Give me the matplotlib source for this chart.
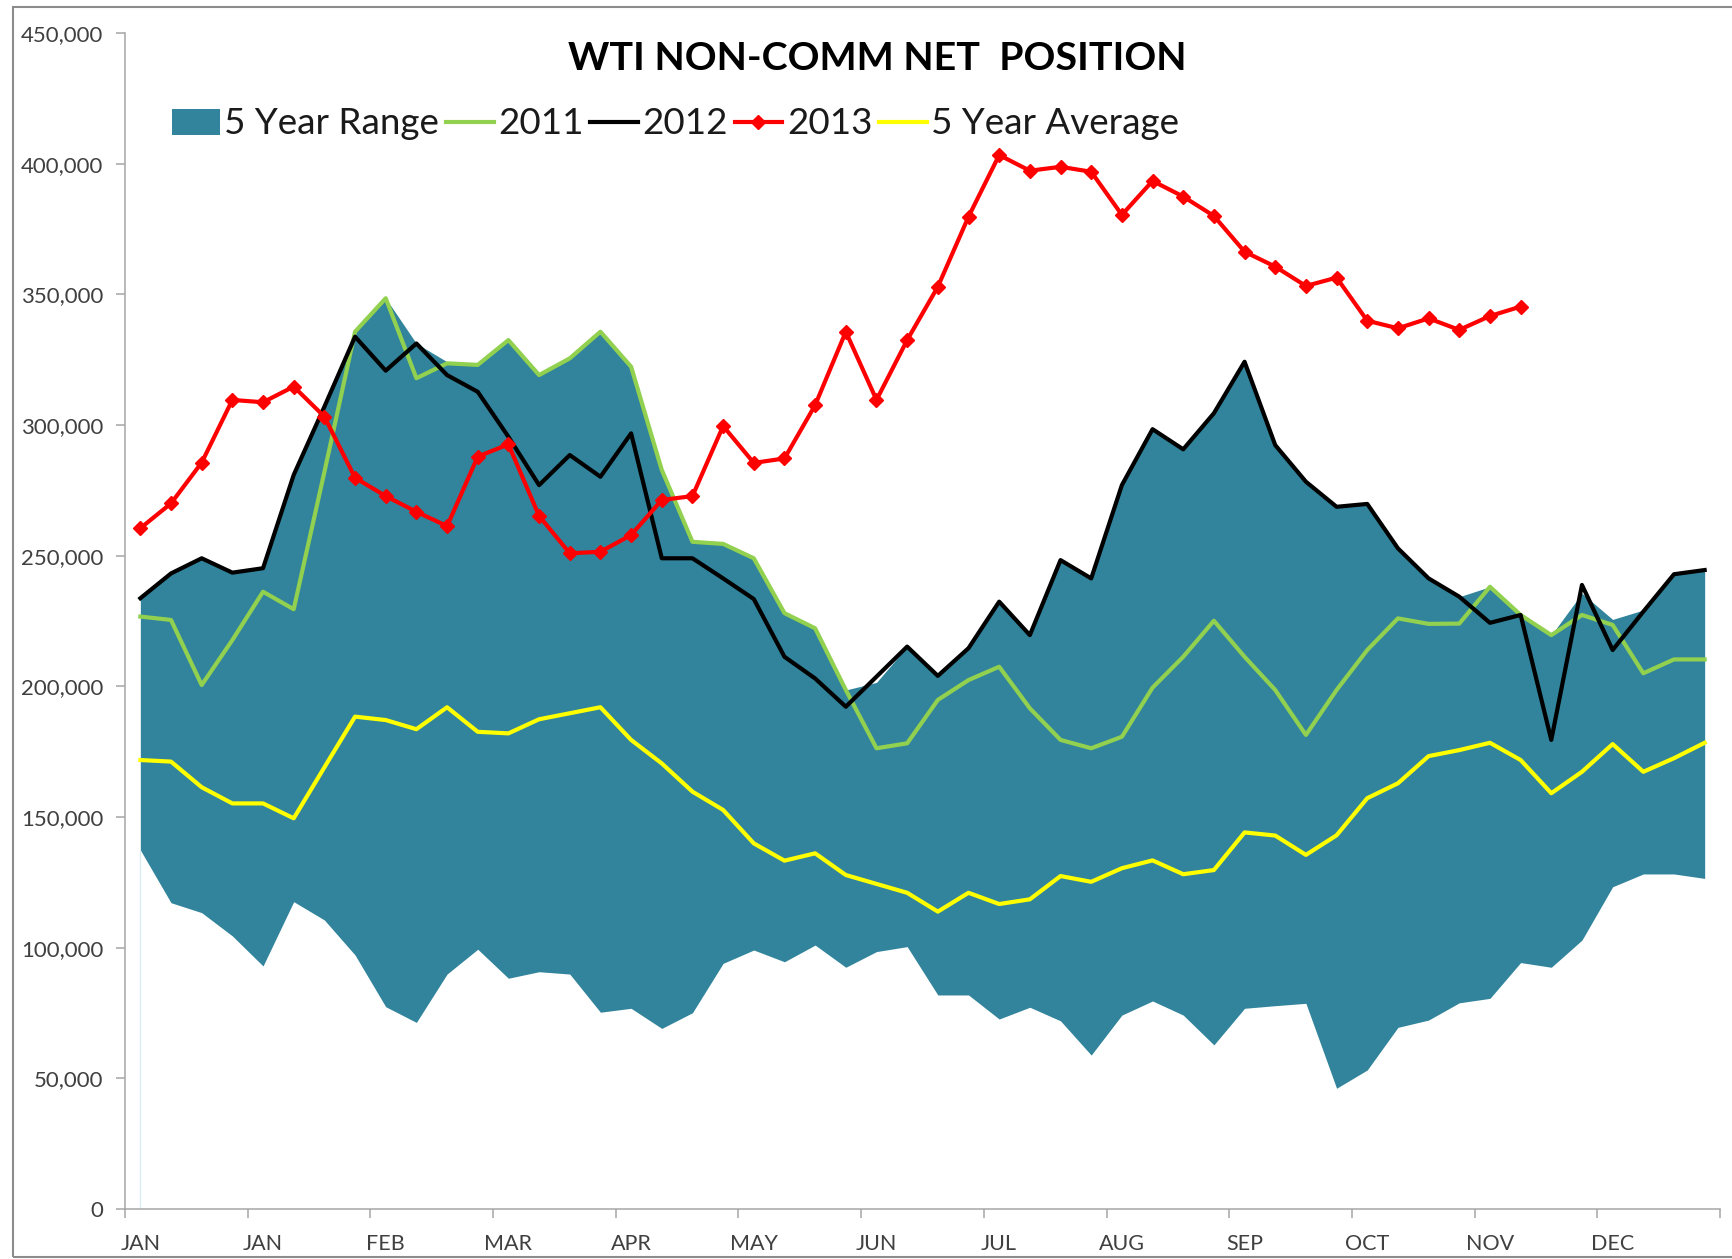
import numpy as np
import matplotlib
matplotlib.use("Agg")
import matplotlib.pyplot as plt
from matplotlib.patches import Patch, Rectangle
from matplotlib.lines import Line2D
from matplotlib.ticker import FuncFormatter

plt.rcParams['font.family'] = ['Lato', 'DejaVu Sans']

# weekly values, thousands of contracts
weeks = np.arange(52)
month_labels = ['JAN', 'JAN', 'FEB', 'MAR', 'APR', 'MAY', 'JUN',
                'JUL', 'AUG', 'SEP', 'OCT', 'NOV', 'DEC']

range_low = [137.4, 117.2, 113.4, 104.5, 93.0, 117.6, 110.6, 97.2, 77.4, 71.4,
             89.9, 99.4, 88.3, 90.8, 89.9, 75.3, 76.8, 69.1, 75.1, 94.0,
             99.1, 94.6, 101.0, 92.5, 98.5, 100.4, 81.9, 81.9, 72.7, 77.2,
             72.0, 58.9, 74.2, 79.6, 74.2, 62.8, 76.8, 77.8, 78.7, 46.2,
             53.2, 69.5, 72.3, 78.9, 80.6, 94.3, 92.5, 102.9, 123.3, 128.2,
             128.2, 126.5]
range_high = [233.7, 243.2, 249.0, 243.5, 245.2, 280.9, 307.0, 335.7, 348.5, 331.2,
              324.2, 323.0, 332.5, 319.1, 325.5, 335.7, 322.3, 282.8, 255.3, 254.5,
              249.0, 228.0, 222.2, 198.6, 201.5, 215.2, 204.0, 214.6, 232.4, 219.6,
              248.3, 241.3, 277.0, 298.4, 290.7, 304.5, 324.2, 292.3, 278.3, 268.7,
              269.8, 252.8, 241.3, 234.3, 238.1, 227.3, 219.6, 235.6, 225.6, 229.2,
              242.9, 244.5]
y2011 = [226.7, 225.4, 200.5, 217.7, 236.2, 229.5, 282.0, 335.7, 348.5, 317.9,
         323.6, 323.0, 332.5, 319.1, 325.5, 335.7, 322.3, 282.8, 255.3, 254.5,
         249.0, 228.0, 222.2, 198.6, 176.3, 178.2, 194.8, 202.4, 207.5, 191.6,
         179.5, 176.3, 180.7, 199.5, 211.3, 225.1, 211.3, 198.6, 181.4, 198.6,
         213.9, 226.0, 223.9, 224.0, 238.1, 227.3, 219.6, 227.3, 223.5, 205.0,
         210.3, 210.3]
y2012 = [233.7, 243.2, 249.0, 243.5, 245.2, 280.9, 307.0, 333.8, 320.8, 331.2,
         319.1, 312.7, 295.5, 277.0, 288.5, 280.2, 296.8, 249.0, 249.0, 241.3,
         233.4, 211.3, 203.0, 192.2, 203.7, 215.2, 204.0, 214.6, 232.4, 219.6,
         248.3, 241.3, 277.0, 298.4, 290.7, 304.5, 324.2, 292.3, 278.3, 268.7,
         269.8, 252.8, 241.3, 234.3, 224.3, 227.3, 179.5, 238.8, 213.9, 228.6,
         242.9, 244.5]
y2013 = [260.5, 270.0, 285.6, 309.6, 308.7, 314.7, 303.2, 279.8, 272.8, 266.8,
         261.3, 287.9, 292.6, 265.2, 250.9, 251.5, 257.9, 271.3, 272.8, 299.6,
         285.5, 287.2, 307.6, 335.7, 309.6, 332.5, 352.9, 379.7, 403.3, 397.3,
         398.8, 396.9, 380.4, 393.4, 387.4, 380.0, 366.3, 360.6, 353.2, 356.4,
         339.9, 337.0, 340.8, 336.4, 341.7, 345.3]
avg5 = [171.8, 171.2, 161.4, 155.2, 155.2, 149.5, 169.0, 188.4, 187.1, 183.6,
        192.0, 182.6, 182.0, 187.4, 189.7, 192.0, 179.5, 170.5, 159.7, 152.7,
        139.9, 133.3, 136.1, 127.8, 124.4, 121.0, 113.8, 121.0, 116.7, 118.5,
        127.4, 125.2, 130.4, 133.4, 128.1, 129.7, 144.1, 142.9, 135.5, 143.0,
        157.2, 162.9, 173.3, 175.6, 178.4, 171.8, 159.1, 167.3, 177.9, 167.3,
        172.5, 178.4]

k = 1000
lo = np.array(range_low) * k
hi = np.array(range_high) * k

teal = '#31849B'
green = '#92D050'
axis_gray = '#A6A6A6'
text_gray = '#404040'
lw = 3.0

fig = plt.figure(figsize=(17.32, 12.59), dpi=100)
ax = fig.add_axes([125 / 1732, 1 - 1209 / 1259, 1595 / 1732, 1176 / 1259])

ax.fill_between(weeks, lo, hi, color=teal, linewidth=0, zorder=1)
ax.vlines(0, 0, lo[0], color='#DAEEF3', lw=1, zorder=1)
ax.plot(weeks, np.array(y2011) * k, color=green, lw=lw, zorder=2)
ax.plot(weeks, np.array(y2012) * k, color='black', lw=lw, zorder=3)
ax.plot(weeks[:len(y2013)], np.array(y2013) * k, color='#FF0000', lw=lw,
        marker='D', markersize=7, zorder=4)
ax.plot(weeks, np.array(avg5) * k, color='#FFFF00', lw=lw, zorder=5)

ax.set_xlim(-0.5, 51.5)
ax.set_ylim(0, 450000)

# tick marks between groups of weeks, labels on the first week of each group
ax.set_xticks(np.arange(-0.5, 52, 4))
ax.set_xticklabels([])
ax.set_xticks(np.arange(0, 52, 4), minor=True)
ax.set_xticklabels(month_labels, minor=True)
ax.tick_params(axis='x', which='major', direction='out', length=6.5,
               width=1.1, color=axis_gray)
ax.tick_params(axis='x', which='minor', length=0, pad=18,
               labelsize=15.5, labelcolor=text_gray)

ax.set_yticks(np.arange(0, 450001, 50000))
ax.yaxis.set_major_formatter(FuncFormatter(lambda v, p: f'{v:,.0f}'))
ax.tick_params(axis='y', direction='out', length=6.5, width=1.1,
               color=axis_gray, labelsize=16, labelcolor=text_gray, pad=9)

for s in ['top', 'right']:
    ax.spines[s].set_visible(False)
for s in ['left', 'bottom']:
    ax.spines[s].set_color(axis_gray)
    ax.spines[s].set_linewidth(1.1)

fig.text(877 / 1732, 1 - 58 / 1259, 'WTI NON-COMM NET  POSITION',
         ha='center', va='center', fontsize=28.4, fontweight='bold')

handles = [
    Patch(facecolor=teal, edgecolor='none'),
    Line2D([], [], color=green, lw=lw),
    Line2D([], [], color='black', lw=lw),
    Line2D([], [], color='#FF0000', lw=lw, marker='D', markersize=7),
    Line2D([], [], color='#FFFF00', lw=lw),
]
labels = ['5 Year Range', '2011', '2012', '2013', '5 Year Average']
fig.legend(handles, labels, loc='center left',
           bbox_to_anchor=(172 / 1732, 1 - 124 / 1259), ncol=5,
           frameon=False, fontsize=26.5, handlelength=1.3, handletextpad=0.12,
           columnspacing=0.18, borderpad=0, borderaxespad=0,
           labelcolor='#1a1a1a')

# outer chart border
fig.patches.append(Rectangle((13 / 1732, 2 / 1259), 1.2, 1250 / 1259,
                             transform=fig.transFigure, fill=False,
                             edgecolor='#8C8C8C', lw=1.5))

fig.savefig('out.png', dpi=100)
